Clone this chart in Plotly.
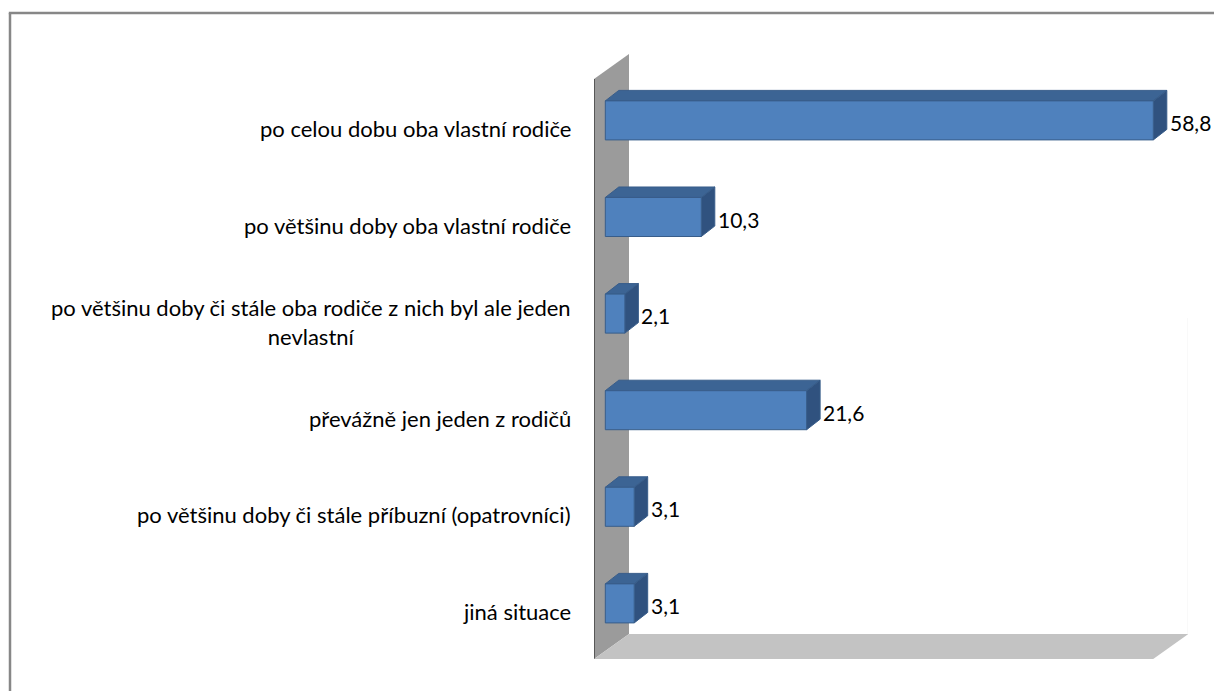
import plotly.graph_objects as go

categories = [
    "po celou dobu oba vlastní rodiče",
    "po většinu doby oba vlastní rodiče",
    "po většinu doby či stále oba rodiče z nich byl ale jeden<br>nevlastní",
    "převážně jen jeden z rodičů",
    "po většinu doby či stále příbuzní (opatrovníci)",
    "jiná situace",
]
values = [58.8, 10.3, 2.1, 21.6, 3.1, 3.1]
axis_max = 60

# pixel geometry of the 3d box
W, H = 1214, 691
L, R, T, B = 594, 1188, 54, 659          # plot area = wall front .. floor back
PX_UNIT = 9.32                           # px per value unit
PX_CAT = 96.6                            # px per category
X0 = 605.3                               # value 0 on the bar front plane
Y0 = 120.4                               # centre of first category
DEPTH = (35, -25)                        # full depth of wall/floor, px
BAR_DEPTH = (13.5, -10.5)                # depth of a bar, px
BAR_H = 0.404                            # bar thickness in category units

FRONT = "#4f81bd"
TOP = "#3c6494"
SIDE = "#30527f"
EDGE = "#385d8a"
FONT = "Lato, 'Open Sans', sans-serif"


def dx(px):
    return (px - X0) / PX_UNIT


def dy(py):
    return (py - Y0) / PX_CAT


def poly(points):
    return "M " + " L ".join(f"{x},{y}" for x, y in points) + " Z"


shapes = []

# gray side wall
wall_px = [(L, T + 25), (L + DEPTH[0], T), (L + DEPTH[0], B + DEPTH[1]), (L, B)]
shapes.append(dict(type="path", xref="x", yref="y", layer="below",
                   path=poly([(dx(x), dy(y)) for x, y in wall_px]),
                   fillcolor="#9b9b9b", line=dict(width=0)))
shapes.append(dict(type="line", xref="x", yref="y", layer="below",
                   x0=dx(L), x1=dx(L), y0=dy(T + 25), y1=dy(B),
                   line=dict(color="#404040", width=1.5)))

# floor
front_right = L + axis_max * PX_UNIT
floor_px = [(L, B), (front_right, B), (front_right + DEPTH[0], B + DEPTH[1]),
            (L + DEPTH[0], B + DEPTH[1])]
shapes.append(dict(type="path", xref="x", yref="y", layer="below",
                   path=poly([(dx(x), dy(y)) for x, y in floor_px]),
                   fillcolor="#c3c3c3", line=dict(width=0)))

# faint back-wall edge
shapes.append(dict(type="line", xref="x", yref="y", layer="below",
                   x0=dx(front_right + DEPTH[0]), x1=dx(front_right + DEPTH[0]),
                   y0=dy(318), y1=dy(B + DEPTH[1]),
                   line=dict(color="#ebebeb", width=1)))

# top and side faces of the bars
bdx = BAR_DEPTH[0] / PX_UNIT
bdy = BAR_DEPTH[1] / PX_CAT
for i, v in enumerate(values):
    y_top = i - BAR_H / 2
    y_bot = i + BAR_H / 2
    top_face = [(0, y_top), (v, y_top), (v + bdx, y_top + bdy), (bdx, y_top + bdy)]
    side_face = [(v, y_top), (v + bdx, y_top + bdy), (v + bdx, y_bot + bdy), (v, y_bot)]
    shapes.append(dict(type="path", xref="x", yref="y", layer="below",
                       path=poly(top_face), fillcolor=TOP,
                       line=dict(color=EDGE, width=1)))
    shapes.append(dict(type="path", xref="x", yref="y", layer="below",
                       path=poly(side_face), fillcolor=SIDE,
                       line=dict(color=EDGE, width=1)))

# outer frame
fx = (10 - L) / (R - L)
fy = (B - 13) / (B - T)
shapes.append(dict(type="line", xref="paper", yref="paper",
                   x0=fx, x1=fx, y0=fy, y1=(B - H - 5) / (B - T),
                   line=dict(color="#878787", width=2.5)))
shapes.append(dict(type="line", xref="paper", yref="paper",
                   x0=fx - 0.002, x1=(W + 5 - L) / (R - L), y0=fy, y1=fy,
                   line=dict(color="#878787", width=2.5)))

ypos = list(range(len(categories)))

bars = go.Bar(
    x=values, y=ypos, orientation="h", width=BAR_H,
    marker=dict(color=FRONT, line=dict(color=EDGE, width=1)),
    hoverinfo="skip",
)

annotations = []
for i, c in enumerate(categories):
    annotations.append(dict(
        text=c, xref="paper", yref="y", x=(573 - L) / (R - L), y=i,
        xanchor="right", yanchor="middle", align="center", yshift=-8,
        showarrow=False, font=dict(family=FONT, size=22, color="#000000"),
    ))

# value labels beside the side face of each bar
for i, v in enumerate(values):
    annotations.append(dict(
        text=f"{v:.1f}".replace(".", ","), xref="x", yref="y", x=v + bdx, y=i,
        xanchor="left", yanchor="middle", xshift=1, yshift=-2,
        showarrow=False, font=dict(family=FONT, size=21, color="#000000"),
    ))

fig = go.Figure(data=[bars])
fig.update_layout(
    width=W, height=H,
    margin=dict(l=L, r=W - R, t=T, b=H - B, pad=0),
    paper_bgcolor="white", plot_bgcolor="white",
    showlegend=False,
    shapes=shapes,
    annotations=annotations,
    xaxis=dict(range=[dx(L), dx(R)], visible=False, fixedrange=True),
    yaxis=dict(range=[dy(B), dy(T)], visible=False, fixedrange=True),
)

# drop the default 8px body margin so the figure fills the window exactly
fig.write_html("out.html", config={"displayModeBar": False},
               post_script="document.body.style.margin='0';document.body.style.overflow='hidden';")
